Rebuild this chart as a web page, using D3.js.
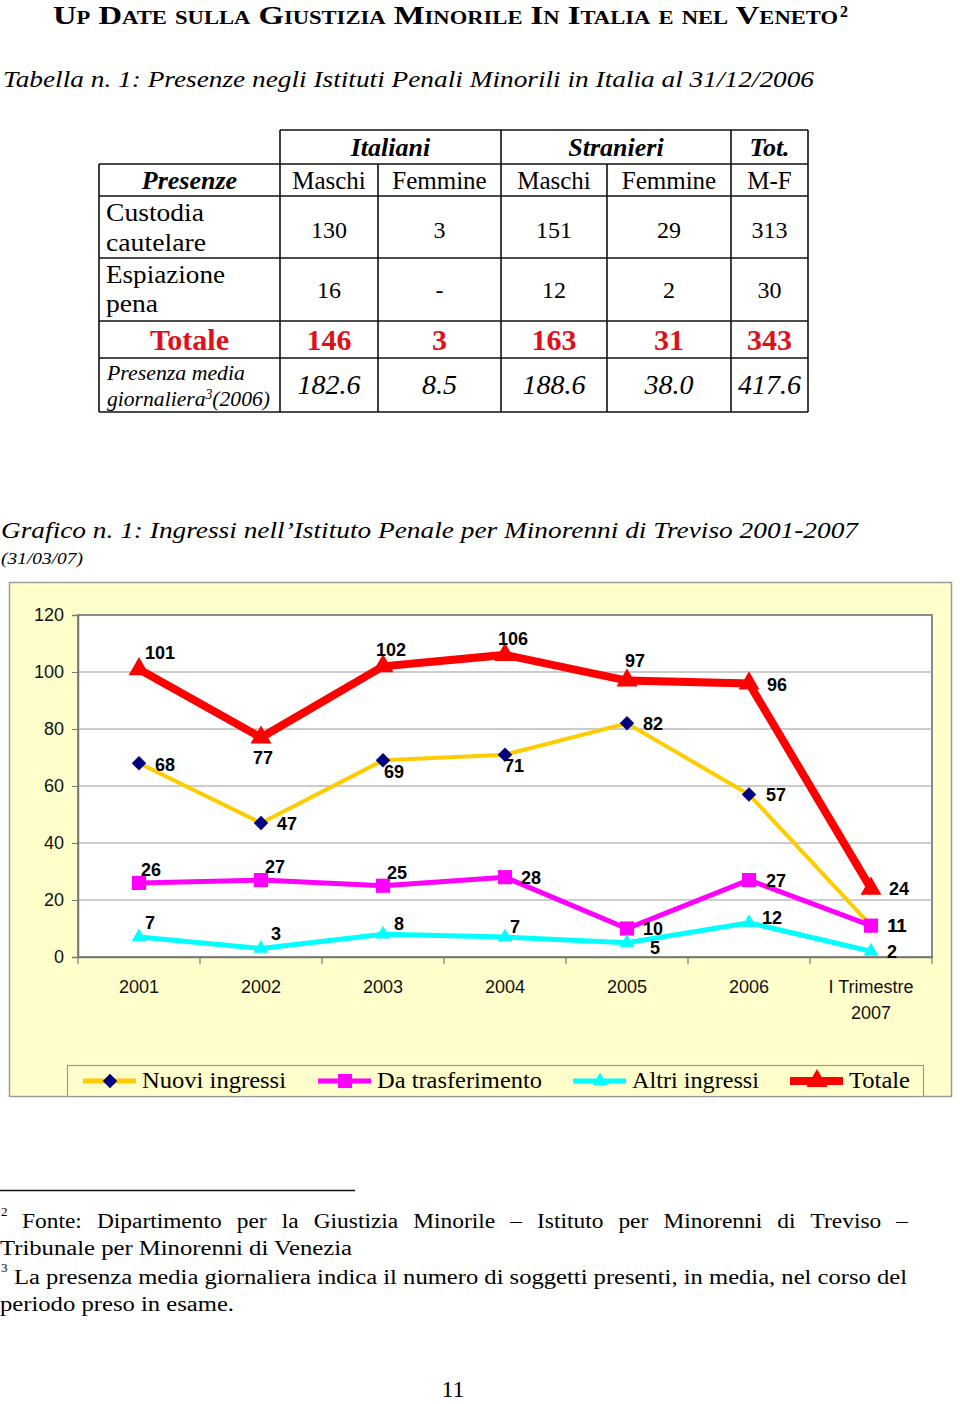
<!DOCTYPE html>
<html><head><meta charset="utf-8">
<script src="https://cdn.jsdelivr.net/npm/d3@7"></script>
<style>
html,body{margin:0;padding:0;background:#fff;}
svg{display:block;}
.serif{font-family:"Liberation Serif","Times New Roman",serif;}
.sans{font-family:"Liberation Sans",Arial,sans-serif;}
</style></head>
<body>
<svg id="page" width="960" height="1404"></svg>
<script>
// ---------- DATA ----------
const categories = ["2001","2002","2003","2004","2005","2006","I Trimestre 2007"];
const nuoviIngressi = [68,47,69,71,82,57,11];
const daTrasferimento = [26,27,25,28,10,27,11];
const altriIngressi = [7,3,8,7,5,12,2];
const totale = [101,77,102,106,97,96,24];
const yTicks = [0,20,40,60,80,100,120];
const seriesNames = ["Nuovi ingressi","Da trasferimento","Altri ingressi","Totale"];

const tableGroups = ["Italiani","Stranieri","Tot."];
const tableSubHeaders = ["Maschi","Femmine","Maschi","Femmine","M-F"];
const rowCustodia = ["130","3","151","29","313"];
const rowEspiazione = ["16","-","12","2","30"];
const rowTotale = ["146","3","163","31","343"];
const rowMedia = ["182.6","8.5","188.6","38.0","417.6"];

// label placement (offsets of label centre from point)
const labelOffsets = {
  "Nuovi ingressi":[[26,1],[26,0],[11,11],[9,11],[26,0],[27,0],[26,0]],
  "Da trasferimento":[[12,-13],[14,-14],[14,-13],[26,0],[26,0],[27,0],[26,0]],
  "Altri ingressi":[[11,-15],[15,-15],[16,-11],[10,-11],[28,5],[23,-5],[21,0]],
  "Totale":[[21,-17],[2,20],[8,-17],[8,-16],[8,-20],[28,1],[28,0]]
};

const svg = d3.select("#page");
const red = "#E0101A";

// ---------- TITLE ----------
svg.append("text").attr("class","serif").attr("x",53).attr("y",24)
  .attr("font-size",26).attr("font-weight","bold").style("font-variant","small-caps")
  .attr("textLength",785).attr("lengthAdjust","spacingAndGlyphs")
  .text("Up Date sulla Giustizia Minorile In Italia e nel Veneto");
svg.append("text").attr("class","serif").attr("x",840).attr("y",17)
  .attr("font-size",16).attr("font-weight","bold").text("2");

svg.append("text").attr("class","serif").attr("x",3).attr("y",87)
  .attr("font-size",24).attr("font-style","italic")
  .attr("textLength",811).attr("lengthAdjust","spacingAndGlyphs")
  .text("Tabella n. 1: Presenze negli Istituti Penali Minorili in Italia  al 31/12/2006");

// ---------- TABLE ----------
const cx = [99,280,378,501,607,731,808];
const ry = [130,164,196,258,321,358,412];
const tg = svg.append("g").attr("class","serif");
const ln = (x1,y1,x2,y2)=>tg.append("line").attr("x1",x1).attr("y1",y1).attr("x2",x2).attr("y2",y2)
  .attr("stroke","#111").attr("stroke-width",1.6);
ln(280,130,808,130);
for(let i=1;i<ry.length;i++) ln(99,ry[i],808,ry[i]);
[280,501,731,808].forEach(x=>ln(x,130,x,164));
cx.forEach(x=>ln(x,164,x,412));
const colC = d3.range(5).map(i=>(cx[i+1]+cx[i+2])/2);
const groupC = [(280+501)/2,(501+731)/2,(731+808)/2];
tableGroups.forEach((t,i)=>tg.append("text").attr("x",groupC[i]).attr("y",156).attr("text-anchor","middle")
  .attr("font-size",26).attr("font-weight","bold").attr("font-style","italic").text(t));
tg.append("text").attr("x",189.5).attr("y",189).attr("text-anchor","middle")
  .attr("font-size",26).attr("font-weight","bold").attr("font-style","italic").text("Presenze");
tableSubHeaders.forEach((t,i)=>tg.append("text").attr("x",colC[i]).attr("y",189).attr("text-anchor","middle")
  .attr("font-size",25).text(t));
function rowLabel(lines,ys,size,italic,len){
  lines.forEach((t,i)=>{const e=tg.append("text").attr("x",106).attr("y",ys[i]).attr("font-size",size).text(t);
    if(italic) e.attr("font-style","italic");
    if(len&&len[i]) e.attr("textLength",len[i]).attr("lengthAdjust","spacingAndGlyphs");});
}
rowLabel(["Custodia","cautelare"],[221,251],25,false,[98,100]);
rowLabel(["Espiazione","pena"],[283,312],25,false,[119,52]);
function rowVals(vals,y,size,opt){
  vals.forEach((t,i)=>{const e=tg.append("text").attr("x",colC[i]).attr("y",y).attr("text-anchor","middle")
    .attr("font-size",size).text(t);
    if(opt.bold) e.attr("font-weight","bold");
    if(opt.italic) e.attr("font-style","italic");
    if(opt.fill) e.attr("fill",opt.fill);});
}
rowVals(rowCustodia,238,24,{});
rowVals(rowEspiazione,298,24,{});
tg.append("text").attr("x",189.5).attr("y",350).attr("text-anchor","middle").attr("font-size",30)
  .attr("font-weight","bold").attr("fill",red).text("Totale");
rowVals(rowTotale,350,30,{bold:true,fill:red});
tg.append("text").attr("x",107).attr("y",380).attr("font-size",22).attr("font-style","italic")
  .attr("textLength",138).attr("lengthAdjust","spacingAndGlyphs").text("Presenza media");
const gt = tg.append("text").attr("x",107).attr("y",406).attr("font-size",22).attr("font-style","italic")
  .attr("textLength",163).attr("lengthAdjust","spacingAndGlyphs");
gt.append("tspan").text("giornaliera");
gt.append("tspan").attr("font-size",14).attr("dy",-7).text("3");
gt.append("tspan").attr("dy",7).text("(2006)");
rowVals(rowMedia,394,28,{italic:true});

// ---------- CHART CAPTION ----------
svg.append("text").attr("class","serif").attr("x",1).attr("y",538)
  .attr("font-size",24).attr("font-style","italic")
  .attr("textLength",857).attr("lengthAdjust","spacingAndGlyphs")
  .text("Grafico n. 1: Ingressi nell\u2019Istituto Penale per Minorenni di Treviso  2001-2007");
svg.append("text").attr("class","serif").attr("x",1).attr("y",564)
  .attr("font-size",17).attr("font-style","italic")
  .attr("textLength",82).attr("lengthAdjust","spacingAndGlyphs").text("(31/03/07)");

// ---------- CHART ----------
const chart = svg.append("g");
chart.append("rect").attr("x",9.5).attr("y",582.5).attr("width",942).attr("height",514)
  .attr("fill","#FFFFCC").attr("stroke","#9a9a9a").attr("stroke-width",1.5);

const plot = {left:78, right:932, top:615, bottom:957};
const x = d3.scaleBand().domain(categories).range([plot.left,plot.right]);
const y = d3.scaleLinear().domain([0,120]).range([plot.bottom,plot.top]);
const xc = c=>x(c)+x.bandwidth()/2;

chart.append("rect").attr("x",plot.left).attr("y",plot.top).attr("width",plot.right-plot.left)
  .attr("height",plot.bottom-plot.top).attr("fill","#fff").attr("stroke","#8a8a8a").attr("stroke-width",2);

// gridlines
chart.append("g").selectAll("line").data(yTicks.filter(v=>v>0&&v<120)).join("line")
  .attr("x1",plot.left).attr("x2",plot.right).attr("y1",d=>y(d)).attr("y2",d=>y(d))
  .attr("stroke","#9a9a9a").attr("stroke-width",1.2);

// y axis
const yAxis = chart.append("g").attr("transform",`translate(${plot.left},0)`)
  .call(d3.axisLeft(y).tickValues(yTicks).tickSize(6).tickPadding(8));
yAxis.select(".domain").attr("stroke","#777").attr("stroke-width",1.5);
yAxis.selectAll(".tick line").attr("stroke","#777");
yAxis.selectAll("text").attr("class","sans").attr("font-size",18).attr("fill","#111").attr("font-family","Liberation Sans, Arial, sans-serif");

// x axis
const xAxis = chart.append("g").attr("transform",`translate(0,${plot.bottom})`)
  .call(d3.axisBottom(x).tickSize(0).tickFormat(""));
xAxis.select(".domain").attr("stroke","#777").attr("stroke-width",1.5);
chart.append("g").selectAll("line").data(categories.map(c=>x(c)).concat([plot.right])).join("line")
  .attr("x1",d=>d).attr("x2",d=>d).attr("y1",plot.bottom).attr("y2",plot.bottom+7)
  .attr("stroke","#777").attr("stroke-width",1.2);
categories.forEach(c=>{
  const parts = c.startsWith("I Trimestre") ? ["I Trimestre","2007"] : [c];
  parts.forEach((p,i)=>chart.append("text").attr("class","sans").attr("x",xc(c)).attr("y",993+i*26)
    .attr("text-anchor","middle").attr("font-size",18).attr("fill","#111").text(p));
});

// series
const series = [
  {name:"Nuovi ingressi", values:nuoviIngressi, color:"#FFCC00", width:4, marker:"diamond", mcolor:"#000080"},
  {name:"Da trasferimento", values:daTrasferimento, color:"#FF00FF", width:5, marker:"square", mcolor:"#FF00FF"},
  {name:"Altri ingressi", values:altriIngressi, color:"#00FFFF", width:5, marker:"triangleS", mcolor:"#00FFFF"},
  {name:"Totale", values:totale, color:"#FF0000", width:8, marker:"triangleL", mcolor:"#FF0000"}
];
function markerPath(type){
  if(type==="diamond") return d3.symbol(d3.symbolSquare,105)();
  if(type==="square") return d3.symbol(d3.symbolSquare,200)();
  if(type==="triangleS") return d3.symbol(d3.symbolTriangle,95)();
  return d3.symbol(d3.symbolTriangle,190)();
}
const line = d3.line().x(d=>xc(d.c)).y(d=>y(d.v));
series.forEach(s=>{
  const pts = s.values.map((v,i)=>({c:categories[i],v}));
  const g = chart.append("g");
  g.append("path").datum(pts).attr("d",line).attr("fill","none").attr("stroke",s.color)
    .attr("stroke-width",s.width).attr("stroke-linejoin","miter");
  g.selectAll("path.m").data(pts).join("path").attr("class","m")
    .attr("d",markerPath(s.marker))
    .attr("transform",d=>`translate(${xc(d.c)},${y(d.v)})${s.marker==="diamond"?" rotate(45)":""}`)
    .attr("fill",s.mcolor);
});
series.forEach(s=>{
  const offs = labelOffsets[s.name];
  chart.append("g").selectAll("text").data(s.values).join("text").attr("class","sans")
    .attr("x",(v,i)=>xc(categories[i])+offs[i][0]).attr("y",(v,i)=>y(v)+offs[i][1]+6.5)
    .attr("text-anchor","middle").attr("font-size",18).attr("font-weight","bold").attr("fill","#000")
    .text(v=>v);
});

// legend
chart.append("rect").attr("x",67.5).attr("y",1065.5).attr("width",856).attr("height",31)
  .attr("fill","#FFFFCC").attr("stroke","#9a9a9a").attr("stroke-width",1.2);
const legX = [83,318,573,790];
const legTextW = [144,165,127,61];
series.forEach((s,i)=>{
  const lg = chart.append("g").attr("transform",`translate(${legX[i]},1081)`);
  lg.append("line").attr("x1",0).attr("x2",53).attr("stroke",s.color).attr("stroke-width",Math.max(5,s.width));
  lg.append("path").attr("d",markerPath(s.marker))
    .attr("transform",`translate(27,0)${s.marker==="diamond"?" rotate(45)":""}`).attr("fill",s.mcolor);
  lg.append("text").attr("class","serif").attr("x",59).attr("y",7).attr("font-size",23).attr("fill","#000")
    .attr("textLength",legTextW[i]).attr("lengthAdjust","spacingAndGlyphs").text(s.name);
});

// ---------- FOOTNOTES ----------
const fn = svg.append("g").attr("class","serif");
fn.append("line").attr("x1",0).attr("x2",355).attr("y1",1190.5).attr("y2",1190.5).attr("stroke","#111").attr("stroke-width",1.3);
fn.append("text").attr("x",1).attr("y",1216).attr("font-size",13).text("2");
// justified line: words widened slightly, extra space distributed between words
(function(){
  const words = "Fonte: Dipartimento per la Giustizia Minorile \u2013 Istituto per Minorenni di Treviso \u2013".split(" ");
  const x0 = 22, x1 = 908, stretch = 1.17;
  const nodes = words.map(w=>fn.append("text").attr("y",1228).attr("font-size",20).text(w));
  const widths = nodes.map(n=>n.node().getComputedTextLength()*stretch);
  const gap = (x1-x0-d3.sum(widths))/(words.length-1);
  let xx = x0;
  nodes.forEach((n,i)=>{n.attr("x",xx).attr("textLength",widths[i]).attr("lengthAdjust","spacingAndGlyphs"); xx += widths[i]+gap;});
})();
fn.append("text").attr("x",0).attr("y",1255).attr("font-size",20)
  .attr("textLength",352).attr("lengthAdjust","spacingAndGlyphs").text("Tribunale per Minorenni di Venezia");
fn.append("text").attr("x",1).attr("y",1272).attr("font-size",13).text("3");
fn.append("text").attr("x",14).attr("y",1284).attr("font-size",20)
  .attr("textLength",893).attr("lengthAdjust","spacingAndGlyphs")
  .text("La presenza media giornaliera indica il numero di soggetti presenti, in media, nel corso del");
fn.append("text").attr("x",0).attr("y",1311).attr("font-size",20)
  .attr("textLength",234).attr("lengthAdjust","spacingAndGlyphs").text("periodo preso in esame.");
fn.append("text").attr("x",453).attr("y",1397).attr("text-anchor","middle").attr("font-size",24).text("11");
</script>
</body></html>
